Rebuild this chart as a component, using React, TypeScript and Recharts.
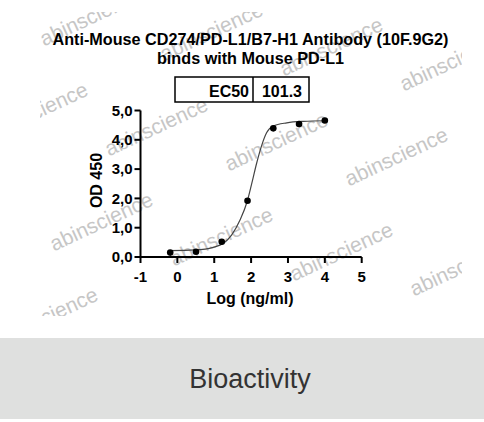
import { ComposedChart, Line, Scatter, XAxis, YAxis } from 'recharts';

// log10 of antibody concentration (ng/ml) and the OD450 readings
const logConc = [-0.194, 0.505, 1.204, 1.903, 2.602, 3.301, 4.0];
const od450 = [0.15, 0.18, 0.52, 1.92, 4.39, 4.54, 4.66];

// fitted dose-response curve, sampled along the data range
const fitX = [-0.2, 0.48, 0.97, 1.25, 1.47, 1.7, 1.9, 2.02, 2.15, 2.29, 2.42, 2.6, 2.97, 3.42, 4.0];
const fitY = [0.215, 0.24, 0.33, 0.47, 0.75, 1.26, 1.92, 2.52, 3.2, 3.82, 4.24, 4.47, 4.58, 4.63, 4.65];

const xTicks = [-1, 0, 1, 2, 3, 4, 5];
const yTicks = [0, 1, 2, 3, 4, 5];

const ec50Label = 'EC50';
const ec50Value = '101.3';

const titleLines = ['Anti-Mouse CD274/PD-L1/B7-H1 Antibody (10F.9G2)', 'binds with Mouse PD-L1'];

const FONT = '"Liberation Sans", Arial, Helvetica, sans-serif';

const points = logConc.map((x, i) => ({ x, y: od450[i] }));
const curve = fitX.map((x, i) => ({ x, y: fitY[i] }));

// tiled "abinscience" watermark, only tiles that fall in the visible strip
const watermarks: { x: number; y: number }[] = [];
for (let j = -1; j <= 2; j++) {
  for (let i = -2; i <= 3; i++) {
    const x = 157 + i * 120 - j * 55;
    const y = 128 + i * 15 + j * 95;
    if (x > -15 && x < 500 && y > 10 && y < 330) watermarks.push({ x, y });
  }
}

const tickStyle = { fill: '#000', fontSize: 15, fontWeight: 700, fontFamily: FONT };
const axisStroke = { stroke: '#000', strokeWidth: 2 };

const Dot = (props: any) => <circle cx={props.cx} cy={props.cy} r={3.3} fill="#000" />;

export default function App() {
  return (
    <div style={{ position: 'absolute', left: 0, top: 0, width: 484, height: 422, background: '#fff' }}>
      <svg width={484} height={422} style={{ position: 'absolute', left: 0, top: 0 }}>
        <defs>
          <clipPath id="wm-clip">
            <rect x={40} y={12} width={422} height={304} />
          </clipPath>
        </defs>
        <g clipPath="url(#wm-clip)">
          {watermarks.map((w, k) => (
            <text
              key={k}
              x={w.x}
              y={w.y}
              textAnchor="middle"
              dominantBaseline="middle"
              transform={`rotate(-25 ${w.x} ${w.y})`}
              fontFamily={FONT}
              fontSize={21}
              fill="#c6c6c6"
            >
              abinscience
            </text>
          ))}
        </g>
        <rect x={0} y={338} width={484} height={81} fill="#dfe0df" />
        <text x={250} y={388} textAnchor="middle" fontFamily={FONT} fontSize={27} fill="#333">
          Bioactivity
        </text>
      </svg>

      <div style={{ position: 'absolute', left: 0, top: 0 }}>
        <ComposedChart
          width={484}
          height={338}
          margin={{ top: 110.5, right: 122.3, bottom: 51, left: 80.5 }}
        >
          <XAxis
            type="number"
            dataKey="x"
            domain={[-1, 5]}
            ticks={xTicks}
            interval={0}
            height={30}
            tickSize={6}
            tickMargin={8}
            axisLine={axisStroke}
            tickLine={axisStroke}
            tick={tickStyle}
            allowDataOverflow
          />
          <YAxis
            type="number"
            domain={[0, 5]}
            ticks={yTicks}
            interval={0}
            width={60}
            tickSize={6}
            tickMargin={2}
            axisLine={axisStroke}
            tickLine={axisStroke}
            tick={tickStyle}
            tickFormatter={(v: number) => v.toFixed(1).replace('.', ',')}
          />
          <Line
            data={curve}
            dataKey="y"
            type="monotone"
            stroke="#444"
            strokeWidth={1.2}
            dot={false}
            activeDot={false}
            isAnimationActive={false}
          />
          <Scatter data={points} dataKey="y" fill="#000" shape={Dot} isAnimationActive={false} />
        </ComposedChart>
      </div>

      <svg width={484} height={338} style={{ position: 'absolute', left: 0, top: 0 }}>
        <g fontFamily={FONT} fontWeight={700} fill="#000">
          <text x={250.5} y={45} textAnchor="middle" fontSize={16.2}>
            {titleLines[0]}
          </text>
          <text x={250.5} y={63.5} textAnchor="middle" fontSize={16.2}>
            {titleLines[1]}
          </text>

          <rect x={175} y={77} width={134} height={25} fill="none" stroke="#000" strokeWidth={1.5} />
          <line x1={253} y1={77} x2={253} y2={102} stroke="#000" strokeWidth={1.5} />
          <text x={249} y={96.5} textAnchor="end" fontSize={16}>
            {ec50Label}
          </text>
          <text x={282} y={96.5} textAnchor="middle" fontSize={16}>
            {ec50Value}
          </text>

          <text x={102} y={180.5} textAnchor="middle" fontSize={16} transform="rotate(-90 102 180.5)">
            OD 450
          </text>
          <text x={250} y={304} textAnchor="middle" fontSize={16}>
            Log (ng/ml)
          </text>
        </g>
      </svg>
    </div>
  );
}
